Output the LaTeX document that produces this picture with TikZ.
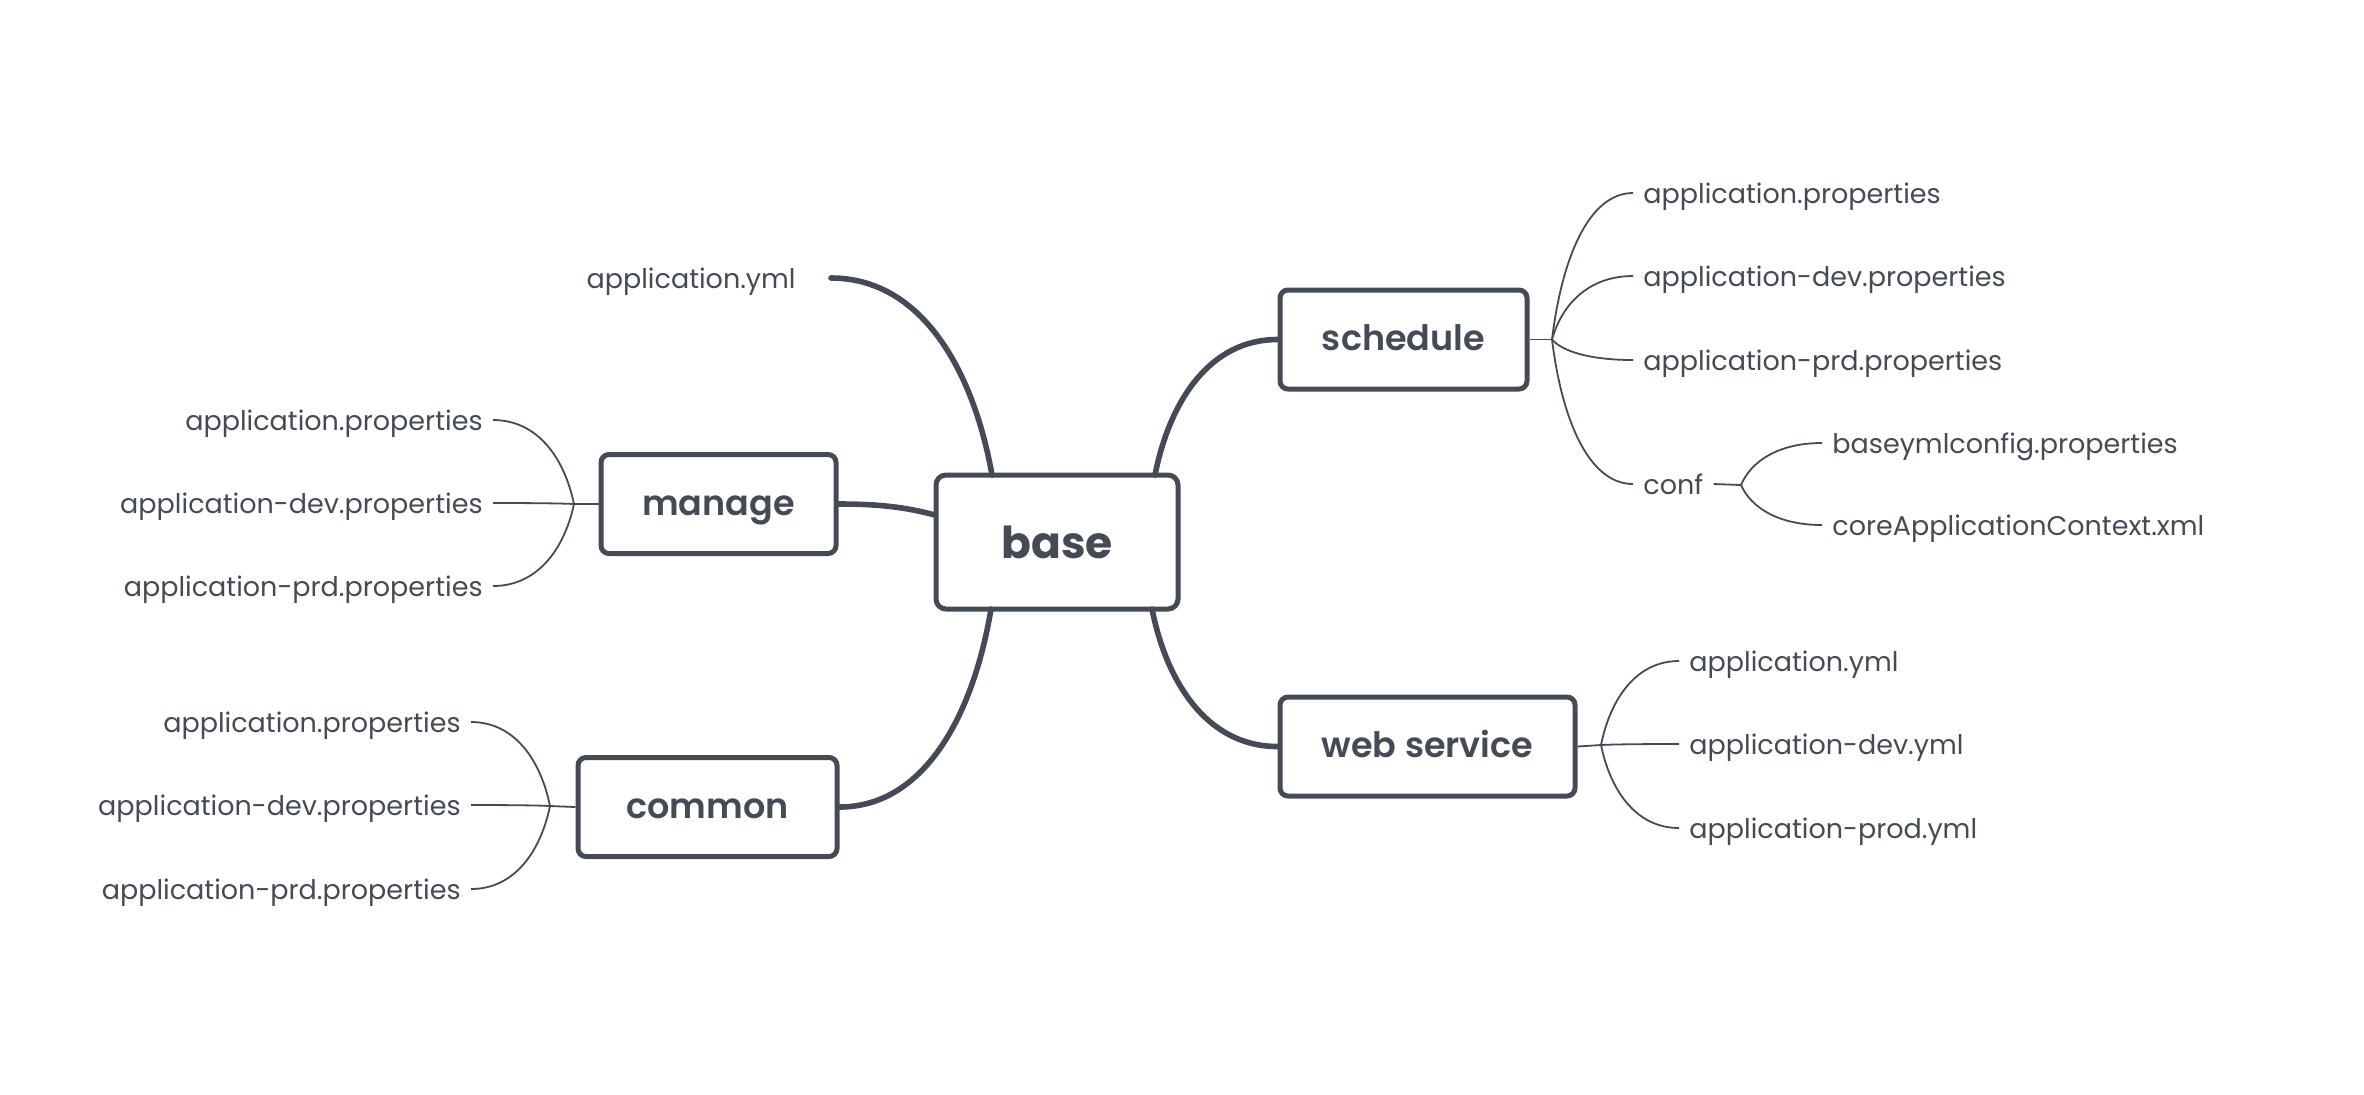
\documentclass[tikz,border=0pt]{standalone}
\usepackage{fontspec}
\setmainfont{Poppins}
\IfFontExistsTF{Poppins SemiBold}{\newfontfamily\topicfont{Poppins SemiBold}}{\newcommand\topicfont{\bfseries}}
\usetikzlibrary{calc}
\definecolor{mindgray}{RGB}{69,75,84}

% curved branch: leaves the start steeply, reaches the target horizontally
\tikzset{
    branch/.style={to path={let \p1=(\tikztostart), \p2=(\tikztotarget) in
        .. controls ({\x1+0.12*(\x2-\x1)}, {\y1+0.55*(\y2-\y1)}) and ({\x2-0.55*(\x2-\x1)}, \y2) .. (\tikztotarget)}}
}

\begin{document}
\begin{tikzpicture}[
    x=0.5pt, y=-0.5pt,
    topic/.style={rectangle, draw=mindgray, line width=2.5pt, rounded corners=4pt, fill=white, text=mindgray, font=\topicfont\fontsize{17.5}{20}\selectfont, minimum height=49.5pt, text height=13pt, text depth=2pt},
    root/.style={topic, rounded corners=5pt, minimum width=121pt, minimum height=67pt, font=\fontsize{22}{26}\selectfont\bfseries, text height=16pt, text depth=0pt},
    leaf/.style={text=mindgray, font=\fontsize{13.5}{16}\selectfont, inner ysep=0pt, inner xsep=5pt, text height=11pt, text depth=0.5pt},
    trunk/.style={draw=mindgray, line width=2.8pt, line cap=round},
    twig/.style={draw=mindgray, line width=0.9pt}
]
\useasboundingbox (0,0) rectangle (2364,1094);

% Central topic and main topics
\node[root] (base) at (1057,542) {base};
\node[topic, minimum width=123.5pt] (sch) at (1403.5,339.5) {schedule};
\node[topic, minimum width=117.5pt] (man) at (718.5,504) {manage};
\node[topic, minimum width=129.5pt] (com) at (707.5,807) {common};
\node[topic, minimum width=147.5pt] (web) at (1427.5,746.5) {web service};

% Leaf directly on base
\node[leaf, anchor=east, inner xsep=17.5pt] (yml) at (831,278) {application.yml};

% schedule leaves
\node[leaf, anchor=west] (s1) at (1633,193) {application.properties};
\node[leaf, anchor=west] (s2) at (1633,276) {application-dev.properties};
\node[leaf, anchor=west] (s3) at (1633,360) {application-prd.properties};
\node[leaf, anchor=west] (conf) at (1633,484) {conf};
\node[leaf, anchor=west] (c1) at (1822,443) {baseymlconfig.properties};
\node[leaf, anchor=west] (c2) at (1822,525) {coreApplicationContext.xml};

% manage leaves
\node[leaf, anchor=east] (m1) at (493,420) {application.properties};
\node[leaf, anchor=east] (m2) at (493,503) {application-dev.properties};
\node[leaf, anchor=east] (m3) at (493,586) {application-prd.properties};

% common leaves
\node[leaf, anchor=east] (k1) at (471,722) {application.properties};
\node[leaf, anchor=east] (k2) at (471,805) {application-dev.properties};
\node[leaf, anchor=east] (k3) at (471,889) {application-prd.properties};

% web service leaves
\node[leaf, anchor=west] (w1) at (1679,661) {application.yml};
\node[leaf, anchor=west] (w2) at (1679,744) {application-dev.yml};
\node[leaf, anchor=west] (w3) at (1679,828) {application-prod.yml};

% Branch points
\coordinate (schb) at (1552,339.5);
\coordinate (confb) at (1741,485);
\coordinate (manb) at (574,504);
\coordinate (comb) at (550,806);
\coordinate (webb) at (1601,745);

% Where the trunks leave base
\coordinate (bul) at (992,475);
\coordinate (bur) at (1155,475);
\coordinate (bll) at (991,609);
\coordinate (blr) at (1152,609);
\coordinate (bml) at (935,515);

% Trunks from base
\draw[trunk] (bul) to[branch] (yml.east);
\draw[trunk] (bur) to[branch] (sch.west);
\draw[trunk] (bll) to[branch] (com.east);
\draw[trunk] (blr) to[branch] (web.west);
\draw[trunk] (bml) .. controls +(-30,-8) and +(40,0) .. (man.east);

% schedule twigs
\draw[twig] (sch.east) -- (schb);
\draw[twig] (schb) to[branch] (s1.west);
\draw[twig] (schb) to[branch] (s2.west);
\draw[twig] (schb) to[branch] (s3.west);
\draw[twig] (schb) to[branch] (conf.west);
\draw[twig] (conf.east) -- (confb);
\draw[twig] (confb) to[branch] (c1.west);
\draw[twig] (confb) to[branch] (c2.west);

% manage twigs
\draw[twig] (man.west) -- (manb);
\draw[twig] (manb) to[branch] (m1.east);
\draw[twig] (manb) to[branch] (m2.east);
\draw[twig] (manb) to[branch] (m3.east);

% common twigs
\draw[twig] (com.west) -- (comb);
\draw[twig] (comb) to[branch] (k1.east);
\draw[twig] (comb) to[branch] (k2.east);
\draw[twig] (comb) to[branch] (k3.east);

% web service twigs
\draw[twig] (web.east) -- (webb);
\draw[twig] (webb) to[branch] (w1.west);
\draw[twig] (webb) to[branch] (w2.west);
\draw[twig] (webb) to[branch] (w3.west);

\end{tikzpicture}
\end{document}
